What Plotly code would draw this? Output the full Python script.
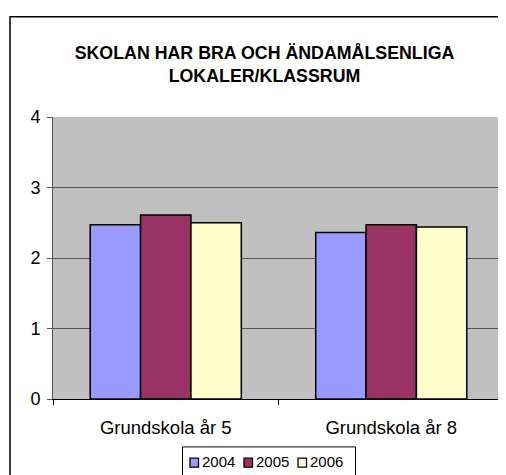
import plotly.graph_objects as go

categories = ["Grundskola år 5", "Grundskola år 8"]
years = ["2004", "2005", "2006"]
values_2004 = [2.47, 2.36]
values_2005 = [2.61, 2.47]
values_2006 = [2.50, 2.44]
y_ticks = [0, 1, 2, 3, 4]
title_text = "SKOLAN HAR BRA OCH ÄNDAMÅLSENLIGA<br>LOKALER/KLASSRUM"

colors = ["#9999FF", "#993366", "#FFFFCC"]
series = [values_2004, values_2005, values_2006]

# page body adds an 8px offset; screen pixel positions are converted below
OFF = 8
W, H = 506, 475
L, R, T = 53 - OFF, W - (504 - OFF), 116.5 - OFF
B = H - (399 - OFF)
pw = W - L - R
ph = H - T - B

def px_x(x):
    return (x - OFF - L) / pw

def px_y(y):
    return (H - B - (y - OFF)) / ph

fig = go.Figure()
for name, vals, col in zip(years, series, colors):
    fig.add_trace(go.Bar(
        x=categories, y=vals, name=name, showlegend=False,
        marker=dict(color=col, line=dict(color="black", width=1.5)),
    ))

shapes = [
    # outer chart frame
    dict(type="rect", xref="paper", yref="paper",
         x0=px_x(10), x1=px_x(530), y0=px_y(500), y1=px_y(16),
         line=dict(color="black", width=1.5), fillcolor="rgba(0,0,0,0)",
         layer="below"),
    # right border of plot area
    dict(type="line", xref="paper", yref="paper",
         x0=1, x1=1, y0=0, y1=1,
         line=dict(color="#888888", width=1.5)),
    # legend box
    dict(type="rect", xref="paper", yref="paper",
         x0=px_x(182.5), x1=px_x(355.5), y0=px_y(490), y1=px_y(447),
         line=dict(color="black", width=1), fillcolor="white"),
]
annotations = []
leg_x0 = 190
pitch = 54
for i, (name, col) in enumerate(zip(years, colors)):
    sx = leg_x0 + i * pitch
    shapes.append(dict(type="rect", xref="paper", yref="paper",
                       x0=px_x(sx), x1=px_x(sx + 8.5),
                       y0=px_y(467.3), y1=px_y(458.3),
                       line=dict(color="black", width=1.3), fillcolor=col))
    annotations.append(dict(xref="paper", yref="paper",
                            x=px_x(sx + 10), y=px_y(461.5),
                            xanchor="left", yanchor="middle",
                            text=name, showarrow=False,
                            font=dict(size=15, color="black")))

fig.update_layout(
    width=W, height=H,
    margin=dict(l=L, r=R, t=T, b=B),
    paper_bgcolor="white",
    plot_bgcolor="#C0C0C0",
    barmode="group",
    bargap=0.33,
    bargroupgap=0,
    font=dict(family="Liberation Sans, Arial", color="black", size=15),
    title=dict(
        text="<b>" + title_text + "</b>",
        x=(264.5 - OFF) / W, xanchor="center",
        y=1 - (59 - OFF) / H, yanchor="middle",
        font=dict(size=17.8, family="Liberation Sans, Arial"),
    ),
    showlegend=False,
    xaxis=dict(
        showline=True, linecolor="black", linewidth=1,
        ticks="outside", ticklen=5, tickcolor="black",
        tickson="boundaries",
        tickfont=dict(size=18.5),
        ticklabelstandoff=12,
        mirror=False,
    ),
    yaxis=dict(
        range=[0, 4], tickvals=y_ticks,
        showgrid=True, gridcolor="#555555", gridwidth=1,
        showline=True, linecolor="#555555", linewidth=1,
        ticks="outside", ticklen=5, tickcolor="#555555",
        tickfont=dict(size=18),
        ticklabelstandoff=3,
        zeroline=False,
    ),
    shapes=shapes,
    annotations=annotations,
)

fig.write_html("out.html")
